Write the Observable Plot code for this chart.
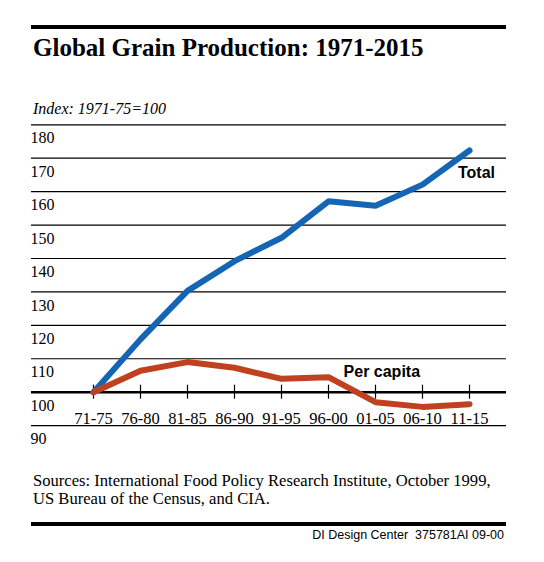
<!DOCTYPE html>
<html><head><meta charset="utf-8">
<script src="https://cdn.jsdelivr.net/npm/d3@7"></script>
<script src="https://cdn.jsdelivr.net/npm/@observablehq/plot@0.6"></script>
<style>
html,body{margin:0;padding:0;background:#fff;overflow:hidden;width:544px;height:562px;position:relative;}
.abs{position:absolute;white-space:nowrap;line-height:1;color:#000;}
.bar{position:absolute;left:31px;width:475px;height:4px;background:#000;}
.title{left:33px;top:35px;font-family:"Liberation Serif","Times New Roman",serif;font-weight:bold;font-size:25px;}
.sub{left:33px;top:100.6px;font-family:"Liberation Serif","Times New Roman",serif;font-style:italic;font-size:16px;}
.src{left:33px;font-family:"Liberation Serif","Times New Roman",serif;font-size:16.6px;}
.foot{right:40px;top:529.4px;font-family:"Liberation Sans",Arial,sans-serif;font-size:12.5px;}
#chart{position:absolute;left:0;top:114px;}
</style></head><body>
<div class="bar" style="top:25px"></div>
<div class="abs title">Global Grain Production: 1971-2015</div>
<div id="chart"></div>
<div class="abs sub">Index: 1971-75=100</div>
<div class="abs src" style="top:472.9px">Sources: International Food Policy Research Institute, October 1999,</div>
<div class="abs src" style="top:491.4px">US Bureau of the Census, and CIA.</div>
<div class="bar" style="top:522px"></div>
<div class="abs foot">DI Design Center&nbsp; 375781AI 09-00</div>
<script>
const periods = ["71-75","76-80","81-85","86-90","91-95","96-00","01-05","06-10","11-15"];
const totalIndex = [100, 115.8, 130.3, 139.2, 146.2, 157.1, 155.8, 162.1, 172.3];
const perCapitaIndex = [100, 106.4, 109.0, 107.3, 104.0, 104.5, 97.0, 95.6, 96.4];
const yTicks = [90, 100, 110, 120, 130, 140, 150, 160, 170, 180];
const baseIndex = 100;
const seriesNames = ["Total", "Per capita"];
const seriesColors = ["#1565b5", "#c0411f"];

const rows = [
  ...periods.map((p, i) => ({series: seriesNames[0], period: p, value: totalIndex[i]})),
  ...periods.map((p, i) => ({series: seriesNames[1], period: p, value: perCapitaIndex[i]}))
];
const totalRows = rows.filter(d => d.series === seriesNames[0]);
const capRows = rows.filter(d => d.series === seriesNames[1]);

const chart = Plot.plot({
  width: 544,
  height: 340,
  marginLeft: 31,
  marginRight: 38,
  marginTop: 10.3,
  marginBottom: 28.9,
  style: {background: "transparent", fontFamily: "Liberation Serif, Times New Roman, serif", fontSize: "16px", color: "#000", overflow: "visible"},
  x: {type: "point", domain: periods, range: [90.7, 471.7], padding: 0, align: 0.5},
  y: {domain: [90, 180], range: [311.1, 10.3]},
  marks: [
    Plot.ruleY(yTicks.filter(v => v !== baseIndex), {stroke: "#000", strokeWidth: 1.2}),
    Plot.ruleY([baseIndex], {stroke: "#000", strokeWidth: 2.6}),
    Plot.ruleX(periods, {x: d => d, y1: () => baseIndex, y2: () => baseIndex, insetTop: -7, insetBottom: -7, stroke: "#000", strokeWidth: 1.2}),
    Plot.axisY(yTicks, {anchor: "left", tickSize: 0, tickPadding: 0, textAnchor: "start", dx: -1, dy: 13.5, fontSize: 16, label: null}),
    Plot.axisX(periods, {anchor: "bottom", tickSize: 0, tickPadding: 0, dy: -13.5, fontSize: 16.5, label: null}),
    Plot.line(totalRows, {x: "period", y: "value", stroke: seriesColors[0], strokeWidth: 6, strokeLinejoin: "round"}),
    Plot.line(capRows, {x: "period", y: "value", stroke: seriesColors[1], strokeWidth: 6, strokeLinejoin: "round"}),
    Plot.text(totalRows.filter(d => d.period === "11-15"), {x: "period", y: "value", text: "series", dx: 7, dy: 22.6, fontSize: 16, fontWeight: "bold", fontFamily: "Liberation Sans, Arial, sans-serif", fill: "#000"}),
    Plot.text(capRows.filter(d => d.period === "01-05"), {x: "period", y: "value", text: "series", dx: 6.3, dy: -30.8, fontSize: 16, fontWeight: "bold", fontFamily: "Liberation Sans, Arial, sans-serif", fill: "#000"})
  ]
});
chart.style.maxWidth = "none";
document.getElementById("chart").appendChild(chart);
</script>
</body></html>
